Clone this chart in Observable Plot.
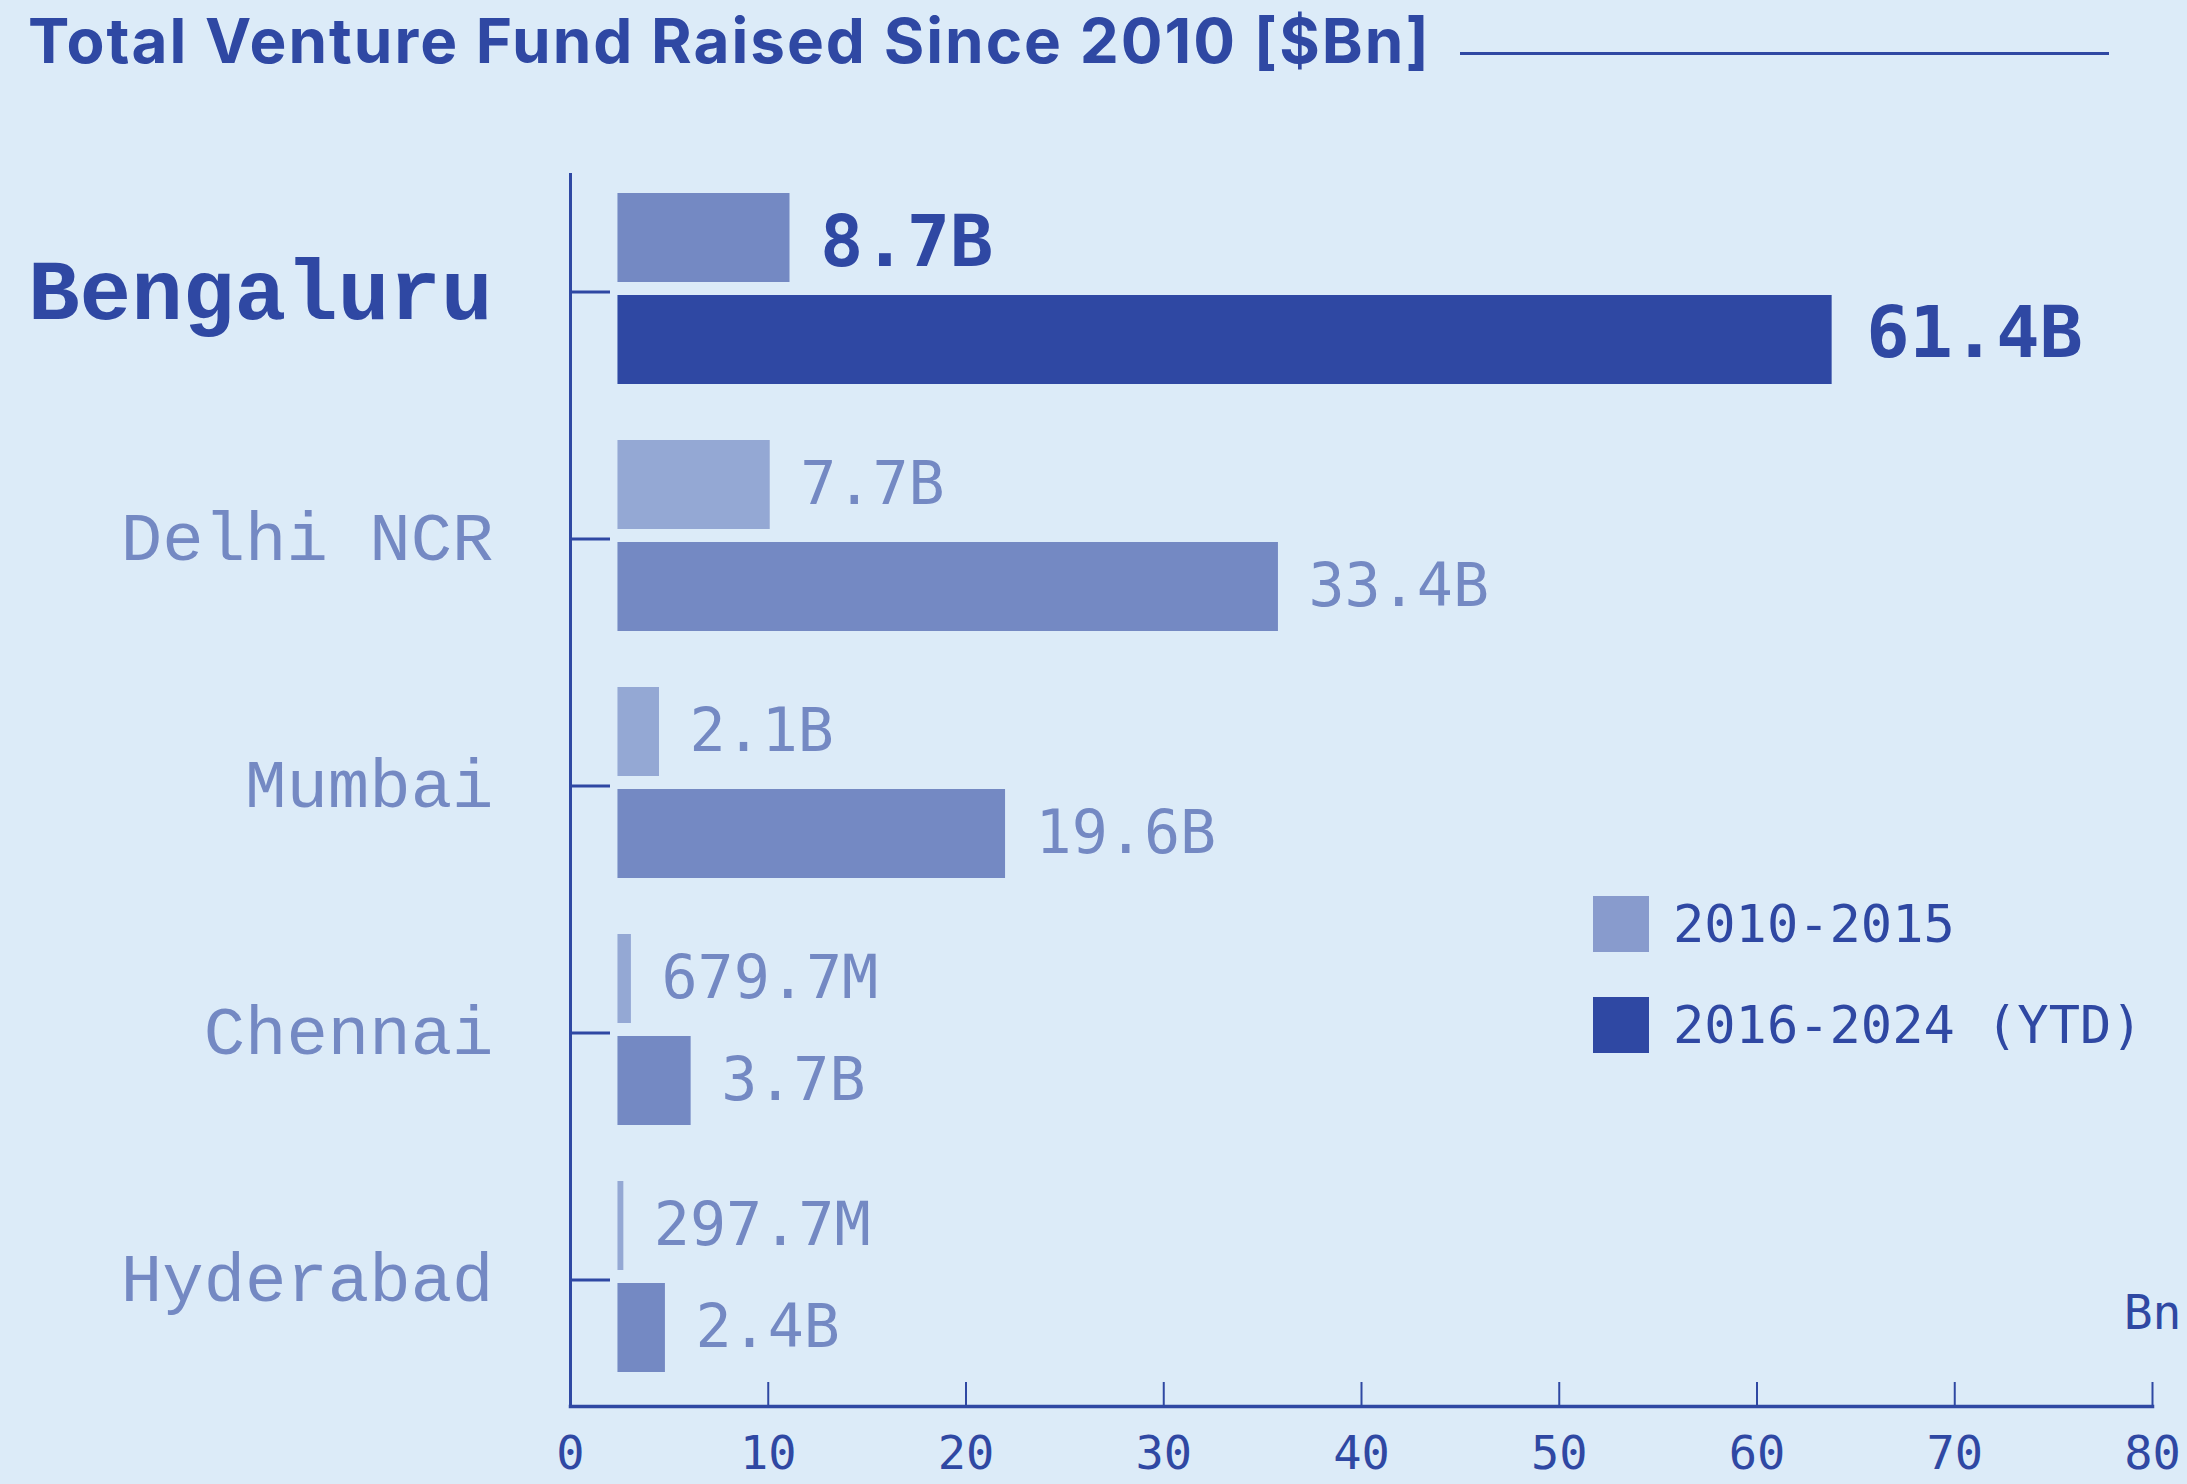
<!DOCTYPE html>
<html>
<head>
<meta charset="utf-8">
<script src="https://cdn.jsdelivr.net/npm/d3@7"></script>
<script src="https://cdn.jsdelivr.net/npm/@observablehq/plot@0.6"></script>
<style>
  html, body { margin: 0; padding: 0; background: #dcebf8; }
  #page { position: relative; width: 2187px; height: 1484px; overflow: hidden; background: #dcebf8; }
  #header { position: relative; height: 100px; }
  #title { position: absolute; left: 28px; top: 9px; font-family: Inter, "Noto Sans", sans-serif; font-weight: 700;
           font-size: 62px; line-height: 64px; color: #2f48a3; white-space: nowrap; letter-spacing: 2px; }
  #rule { position: absolute; left: 1460px; top: 52px; width: 649px; height: 3px; background: #2f48a3; }
  #chart { position: absolute; left: 0; top: 100px; }
  .legend-row { position: absolute; display: flex; align-items: center; height: 56px; }
  .legend-row .sw { width: 56px; height: 56px; margin-right: 24px; }
  .legend-row span { font-family: "DejaVu Sans Mono", monospace; font-size: 52px; line-height: 52px; color: #2f48a3; white-space: nowrap; }
</style>
</head>
<body>
<div id="page">
  <div id="header"><div id="title"></div><div id="rule"></div></div>
  <div id="chart"></div>
  <div id="legend"></div>
</div>
<script>
// ---- data ----
const titleText = "Total Venture Fund Raised Since 2010 [$Bn]";
const cities = ["Bengaluru", "Delhi NCR", "Mumbai", "Chennai", "Hyderabad"];
const highlightCity = "Bengaluru";
const periods = ["2010-2015", "2016-2024 (YTD)"];
const funds2010to2015 = [8.7, 7.7, 2.1, 0.6797, 0.2977];   // $Bn
const funds2016to2024 = [61.4, 33.4, 19.6, 3.7, 2.4];      // $Bn
const xTicks = [0, 10, 20, 30, 40, 50, 60, 70, 80];
const unitLabel = "Bn";

// ---- styles ----
const DARK = "#2f48a3", MED = "#7489c3", LIGHT = "#94a8d4", LEGEND_LIGHT = "#889bcd";
const BAR_START = 2.4; // bars are drawn detached from the axis
const W = 2187, H = 1384, mT = 74, mB = 78, mL = 570, mR = 35;
const innerW = W - mL - mR, innerH = H - mT - mB;

const fmt = v => v >= 1 ? v.toFixed(1) + "B" : (v * 1000).toFixed(1) + "M";

const first = cities.map((c, i) => ({city: c, period: periods[0], value: funds2010to2015[i], hi: c === highlightCity}));
const second = cities.map((c, i) => ({city: c, period: periods[1], value: funds2016to2024[i], hi: c === highlightCity}));

document.getElementById("title").textContent = titleText;

const mono = "DejaVu Sans Mono";
const labelFont = "Liberation Mono";

const chart = Plot.plot({
  width: W, height: H,
  marginTop: mT, marginBottom: mB, marginLeft: mL, marginRight: mR,
  style: {background: "transparent", overflow: "visible"},
  x: {domain: [0, 80], axis: null},
  y: {domain: cities, paddingInner: 0.225, paddingOuter: 0.0995, align: 0.366, axis: null},
  color: {type: "identity"},
  marks: [
    Plot.barX(first, {y: "city", x1: () => BAR_START, x2: d => BAR_START + d.value,
      fill: d => d.hi ? MED : LIGHT, insetBottom: 102}),
    Plot.barX(second, {y: "city", x1: () => BAR_START, x2: d => BAR_START + d.value,
      fill: d => d.hi ? DARK : MED, insetTop: 102}),
    Plot.frame({anchor: "left", stroke: DARK, strokeWidth: 3}),
    Plot.frame({anchor: "bottom", stroke: DARK, strokeWidth: 3.5}),
    Plot.ruleX(xTicks.slice(1), {x: d => d, stroke: DARK, strokeWidth: 2, insetTop: innerH - 24}),
    Plot.tickY(cities, {y: d => d, stroke: DARK, strokeWidth: 3, insetRight: innerW - 40, dy: 3}),
    Plot.axisX(xTicks, {tickSize: 0, tickPadding: 29, fontSize: 47, fontFamily: mono, color: DARK, fill: DARK}),
    // city labels
    Plot.text(cities.filter(c => c !== highlightCity), {y: d => d, text: d => d, frameAnchor: "left",
      textAnchor: "end", dx: -77, dy: 2, fontSize: 69, fontFamily: labelFont, fill: MED}),
    Plot.text(cities.filter(c => c === highlightCity), {y: d => d, text: d => d, frameAnchor: "left",
      textAnchor: "end", dx: -78, dy: 2, fontSize: 86, fontWeight: "bold", fontFamily: labelFont, fill: DARK}),
    // value labels
    Plot.text(first.filter(d => !d.hi), {y: "city", x: d => BAR_START + d.value, text: d => fmt(d.value),
      textAnchor: "start", dx: 30, dy: -51, fontSize: 60, fontFamily: mono, fill: MED}),
    Plot.text(second.filter(d => !d.hi), {y: "city", x: d => BAR_START + d.value, text: d => fmt(d.value),
      textAnchor: "start", dx: 30, dy: 51, fontSize: 60, fontFamily: mono, fill: MED}),
    Plot.text(first.filter(d => d.hi), {y: "city", x: d => BAR_START + d.value, text: d => fmt(d.value),
      textAnchor: "start", dx: 30, dy: -46, fontSize: 72, fontWeight: "bold", fontFamily: mono, fill: DARK}),
    Plot.text(second.filter(d => d.hi), {y: "city", x: d => BAR_START + d.value, text: d => fmt(d.value),
      textAnchor: "start", dx: 34, dy: 45, fontSize: 72, fontWeight: "bold", fontFamily: mono, fill: DARK}),
    // unit label
    Plot.text([unitLabel], {text: d => d, frameAnchor: "bottom-right", textAnchor: "end", dx: 29, dy: -78,
      fontSize: 48, fontFamily: mono, fill: DARK})
  ]
});
document.getElementById("chart").appendChild(chart);

// legend (HTML, placed over the plot area)
const legend = document.getElementById("legend");
[[periods[0], LEGEND_LIGHT, 896], [periods[1], DARK, 997]].forEach(([label, color, top]) => {
  const row = document.createElement("div");
  row.className = "legend-row";
  row.style.left = "1593px";
  row.style.top = top + "px";
  const sw = document.createElement("div");
  sw.className = "sw";
  sw.style.background = color;
  const t = document.createElement("span");
  t.textContent = label;
  row.appendChild(sw); row.appendChild(t);
  legend.appendChild(row);
});
</script>
</body>
</html>
